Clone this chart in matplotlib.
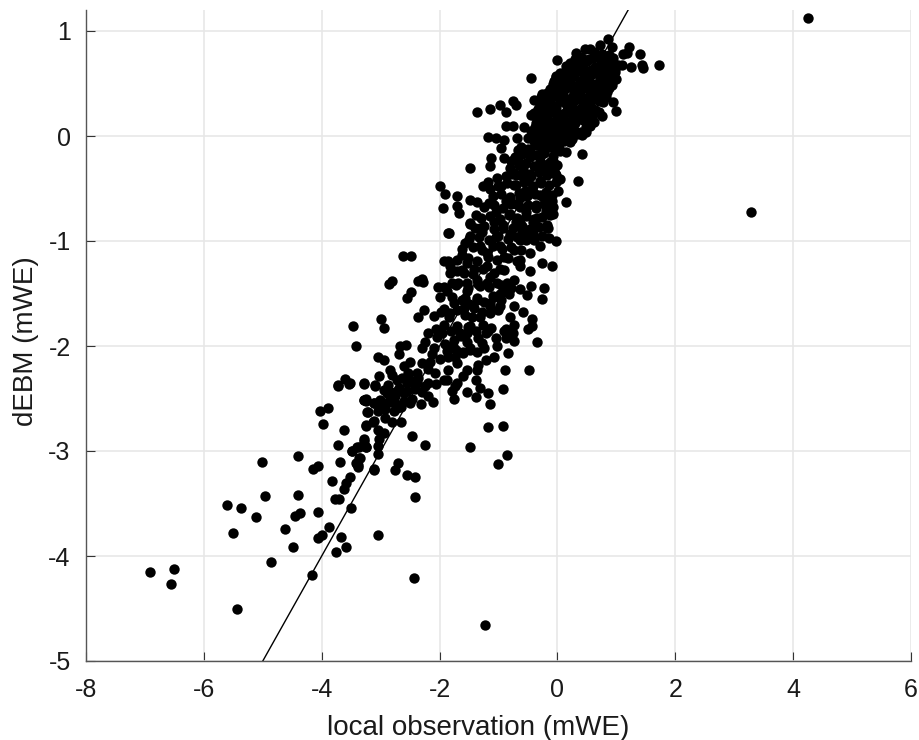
import matplotlib
matplotlib.use("Agg")
import matplotlib.pyplot as plt

plt.rcParams['font.family'] = ['Liberation Sans', 'DejaVu Sans']
plt.rcParams['axes.unicode_minus'] = False

# scattered tail, lower left
tail_x = [-6.91, -6.50, -6.55, -5.44, -4.86, -4.16, -5.51, -5.61, -5.37, -5.12, -4.96, -5.02, -4.40, -4.40, -4.36,
          -4.45, -4.63, -4.49, -4.06, -3.87, -4.00, -4.07, -3.68, -3.59, -3.76, -3.51, -3.77, -3.70, -3.82, -3.52,
          -3.58, -3.62, -4.07, -4.15, -3.69, -3.35, -3.41, -3.38, -3.12, -3.04, -3.62, -3.73, -3.97, -4.03, -3.90,
          -3.48, -3.40, -3.28, -3.24, -3.25, -3.12, -3.23, -3.29, -3.25, -3.12, -3.73, -3.53, -3.29, -3.10, -2.43,
          -2.70, -2.75, -2.56, -2.41, -2.47, -2.25, -3.12, -3.36, -3.40, -3.38, -3.47, -3.41, -2.42]
tail_y = [-4.15, -4.12, -4.27, -4.50, -4.06, -4.18, -3.78, -3.51, -3.54, -3.63, -3.43, -3.10, -3.05, -3.42, -3.59,
          -3.62, -3.74, -3.91, -3.58, -3.72, -3.80, -3.83, -3.82, -3.91, -3.96, -3.54, -3.46, -3.46, -3.29, -3.25,
          -3.30, -3.36, -3.14, -3.17, -3.10, -3.07, -3.11, -3.13, -3.17, -3.80, -2.80, -2.94, -2.74, -2.62, -2.59,
          -3.00, -2.96, -2.90, -2.96, -2.75, -2.71, -2.63, -2.51, -2.52, -2.54, -2.38, -2.36, -2.36, -2.38, -4.21,
          -3.11, -3.18, -3.23, -3.25, -2.86, -2.94, -3.18, -3.07, -3.12, -3.15, -1.81, -2.00, -3.44]

# middle band
mid_x = [-2.62, -2.48, -1.84, -2.81, -2.85, -2.29, -2.37, -2.28, -2.49, -2.56, -2.27, -2.37, -2.99, -2.95, -3.05,
         -2.94, -2.67, -2.57, -2.69, -2.50, -2.84, -3.03, -3.61, -3.72, -3.52, -3.29, -3.09, -2.87, -2.73, -2.61,
         -2.53, -2.39, -2.70, -2.56, -2.41, -2.90, -2.75, -3.01, -3.29, -3.24, -3.12, -2.98, -2.73, -2.50, -2.32,
         -2.19, -2.11, -2.19, -2.24, -2.61, -2.84, -2.39, -3.22, -3.13, -3.25, -2.93, -2.81, -2.65, -3.04, -2.94,
         -3.02, -3.05, -3.04, -3.29, -3.37, -3.48, -3.24, -1.49, -1.18, -0.92, -0.86, -1.01, -1.15, -0.93, -1.18,
         -1.38, -1.54, -1.76, -1.79, -1.31, -1.39, -1.36, -1.61, -1.71, -1.88, -1.93, -1.85, -2.08, -2.30, -2.16,
         -1.71, -1.74, -1.54, -1.34, -1.22, -1.08, -0.84, -0.89, -0.49, -2.24, -2.30, -2.10, -1.96, -2.05, -1.88,
         -1.76, -1.54, -1.28, -1.22, -1.03, -0.88, -0.74, -0.35, -1.71, -1.48, -1.45, -1.31, -1.54, -0.80, -0.74,
         -0.88, -0.43, -0.43, -0.50, -0.58, -2.10, -1.93, -1.82, -1.59, -1.14, -0.97, -0.74, -1.14, -2.03, -2.00,
         -1.88, -1.79, -1.76, -1.54, -1.56, -1.37, -0.97, -0.52, -0.26, -0.23, -0.45, -1.93, -1.85, -1.82, -1.62,
         -1.71, -1.79, -1.59, -1.37, -1.19, -1.03, -0.74, -0.63, -0.26, -0.09, -1.56, -1.48, -1.48, -1.28, -1.05,
         -1.31, -0.91, -0.74, -0.46, -0.63, -0.46, -0.03, -0.29, -0.18, -0.63, -0.80, -0.52, -1.54, -1.42, -1.20,
         -0.97, -0.86, -1.08, -1.31, -0.97, -0.63, -0.40, -0.63, -1.14, -1.54, -1.68, -0.86, -1.20]
mid_y = [-1.14, -1.14, -0.92, -1.38, -1.41, -1.36, -1.38, -1.39, -1.49, -1.54, -1.66, -1.72, -1.74, -1.83, -2.10,
         -2.13, -2.00, -1.99, -2.08, -2.15, -2.23, -2.29, -2.31, -2.37, -2.35, -2.35, -2.37, -2.37, -2.32, -2.19,
         -2.26, -2.26, -2.42, -2.35, -2.38, -2.45, -2.48, -2.51, -2.51, -2.50, -2.54, -2.57, -2.59, -2.54, -2.55,
         -2.48, -2.53, -2.35, -2.38, -2.45, -2.53, -2.35, -2.63, -2.72, -2.76, -2.69, -2.72, -2.72, -2.80, -2.83,
         -2.89, -2.95, -3.03, -2.89, -2.96, -3.00, -2.96, -2.96, -2.77, -2.76, -3.04, -3.12, -2.55, -2.41, -2.45,
         -2.49, -2.44, -2.50, -2.43, -2.40, -2.32, -2.23, -2.29, -2.35, -2.32, -2.32, -2.23, -2.26, -2.16, -2.15,
         -2.16, -2.10, -2.23, -2.18, -2.13, -2.10, -2.07, -2.23, -2.23, -1.96, -2.02, -2.02, -1.88, -1.91, -2.05,
         -1.94, -1.96, -1.97, -1.88, -2.00, -1.92, -1.95, -1.96, -1.81, -1.81, -1.72, -1.72, -1.88, -1.72, -1.80,
         -1.84, -1.74, -1.81, -1.84, -1.68, -1.71, -1.65, -1.69, -1.64, -1.69, -1.62, -1.62, -1.59, -1.44, -1.53,
         -1.48, -1.53, -1.59, -1.48, -1.54, -1.56, -1.50, -1.51, -1.55, -1.45, -1.43, -1.19, -1.19, -1.24, -1.13,
         -1.29, -1.40, -1.30, -1.37, -1.24, -1.40, -1.37, -1.46, -1.21, -1.24, -1.02, -0.95, -0.84, -0.91, -0.96,
         -1.05, -1.15, -1.09, -1.11, -1.24, -1.29, -1.00, -1.05, -0.88, -0.83, -0.93, -0.96, -1.21, -1.27, -1.11,
         -1.27, -1.40, -1.53, -1.43, -1.05, -0.99, -0.99, -1.18, -1.34, -1.40, -1.40, -1.47, -1.40]

# upper band below the dense core
upper_x = [-0.44, -0.75, -0.70, -0.97, -0.87, -1.15, -1.37, -0.39, -0.27, -0.44, -0.88, -0.75, -0.57, -1.17, -1.05,
           -0.91, -0.95, -0.69, -0.67, -0.50, -0.47, 0.04, 0.15, 0.41, -1.12, -1.15, -1.49, -0.90, -0.79, -0.67,
           -0.08, -0.30, -0.58, -0.02, 0.04, 0.35, -0.78, -0.71, -1.03, -1.18, -1.27, -1.15, 0.01, 0.14, -1.90,
           -1.70, -1.48, -1.36, -1.16, -2.00, -1.95, -1.71, -1.67, -1.39, -1.49, -1.32, -1.85, -0.95, -0.73, -0.50,
           -0.30, -0.87, -1.04, -0.70, -0.07, -0.19, -0.36, -0.53, -0.81, -1.07, -0.92, -0.70, -0.41, -0.16, -0.64,
           -0.41, -0.19, -0.25, -0.12, -0.45, -0.30, -0.55, -0.20, -0.35, -0.10, -0.60, -0.42, -0.27, -0.15]
upper_y = [0.55, 0.33, 0.30, 0.30, 0.23, 0.26, 0.23, 0.34, 0.40, 0.20, 0.10, 0.10, 0.09, -0.01, -0.02,
           -0.04, -0.11, -0.02, -0.13, -0.02, -0.15, -0.14, -0.15, -0.17, -0.21, -0.29, -0.30, -0.21, -0.24, -0.24,
           -0.24, -0.24, -0.31, -0.37, -0.41, -0.43, -0.36, -0.37, -0.40, -0.44, -0.48, -0.50, -0.52, -0.63, -0.55,
           -0.57, -0.61, -0.63, -0.64, -0.48, -0.69, -0.67, -0.73, -0.75, -0.83, -0.88, -0.92, -0.48, -0.47, -0.43,
           -0.43, -0.62, -0.72, -0.65, -0.74, -0.63, -0.66, -0.72, -0.74, -0.82, -0.88, -0.82, -0.82, -0.88, -0.59,
           -0.53, -0.53, -0.33, -0.31, -0.38, -0.56, -0.52, -0.71, -0.78, -0.62, -0.90, -0.93, -0.95, -0.97]

# dense core near the origin
core_x = [-0.34, -0.22, -0.11, 0.02, 0.12, 0.24, -0.40, -0.28, -0.16, -0.03, 0.08, 0.20, 0.33, -0.38, -0.25, -0.12,
          0.00, 0.14, 0.27, 0.40, 0.48, -0.42, -0.30, -0.17, -0.04, 0.10, 0.23, 0.36, 0.50, 0.58, -0.33, -0.20,
          -0.06, 0.07, 0.20, 0.34, 0.47, 0.60, -0.24, -0.10, 0.04, 0.17, 0.30, 0.44, 0.57, 0.70, -0.18, -0.04,
          0.10, 0.24, 0.37, 0.51, 0.64, 0.74, -0.08, 0.06, 0.19, 0.33, 0.46, 0.60, 0.72, 0.84, -0.02, 0.12,
          0.26, 0.39, 0.53, 0.66, 0.80, 0.92, 0.14, 0.28, 0.42, 0.55, 0.69, 0.83, 0.97, 0.22, 0.36, 0.50,
          0.63, 0.77, 0.90, 1.03, 0.40, 0.54, 0.68, 0.82, 0.95, 0.62, 0.76, 0.88]
core_y = [-0.09, -0.12, -0.07, -0.11, -0.05, -0.03, 0.00, 0.02, -0.02, 0.01, 0.03, 0.06, 0.02, 0.09, 0.07, 0.10,
          0.08, 0.11, 0.07, 0.04, 0.09, 0.20, 0.15, 0.18, 0.14, 0.17, 0.14, 0.18, 0.12, 0.17, 0.26, 0.23, 0.27,
          0.21, 0.25, 0.22, 0.27, 0.21, 0.34, 0.30, 0.33, 0.29, 0.34, 0.30, 0.28, 0.33, 0.41, 0.38, 0.42, 0.37,
          0.41, 0.36, 0.40, 0.36, 0.50, 0.46, 0.49, 0.44, 0.48, 0.43, 0.47, 0.42, 0.56, 0.53, 0.57, 0.52, 0.55,
          0.50, 0.54, 0.49, 0.63, 0.60, 0.64, 0.59, 0.62, 0.58, 0.61, 0.70, 0.67, 0.71, 0.66, 0.69, 0.65, 0.68,
          0.75, 0.73, 0.76, 0.72, 0.74, 0.80, 0.78, 0.77]

# second pass over the core, between the points above
core2_x = [-0.40, -0.27, -0.15, -0.02, 0.10, 0.22, -0.45, -0.33, -0.20, -0.08, 0.05, 0.18, 0.30, 0.42, -0.37, -0.24,
           -0.10, 0.03, 0.16, 0.30, 0.44, 0.55, -0.39, -0.26, -0.13, 0.00, 0.13, 0.27, 0.40, 0.53, 0.65, -0.30,
           -0.17, -0.03, 0.12, 0.25, 0.38, 0.52, 0.64, -0.28, -0.14, 0.00, 0.14, 0.28, 0.42, 0.55, 0.68, 0.78,
           -0.12, 0.02, 0.15, 0.28, 0.42, 0.55, 0.68, 0.80, -0.05, 0.08, 0.22, 0.35, 0.48, 0.62, 0.75, 0.88,
           0.05, 0.18, 0.32, 0.45, 0.58, 0.72, 0.86, 1.00, 0.15, 0.30, 0.44, 0.57, 0.70, 0.84, 0.98, 0.30,
           0.46, 0.60, 0.74, 0.88, 1.00]
core2_y = [-0.05, -0.06, -0.04, -0.07, -0.03, -0.06, 0.05, 0.04, 0.06, 0.03, 0.05, 0.02, 0.05, 0.01, 0.12, 0.13,
           0.11, 0.14, 0.10, 0.12, 0.15, 0.10, 0.22, 0.21, 0.23, 0.19, 0.22, 0.20, 0.23, 0.19, 0.24, 0.30, 0.31,
           0.28, 0.32, 0.29, 0.26, 0.31, 0.25, 0.37, 0.36, 0.38, 0.35, 0.38, 0.36, 0.33, 0.37, 0.32, 0.45, 0.43,
           0.46, 0.42, 0.45, 0.41, 0.44, 0.40, 0.52, 0.51, 0.53, 0.49, 0.52, 0.48, 0.50, 0.46, 0.60, 0.58, 0.61,
           0.56, 0.59, 0.55, 0.57, 0.54, 0.67, 0.65, 0.68, 0.63, 0.65, 0.62, 0.64, 0.73, 0.72, 0.74, 0.70, 0.71,
           0.68]

# extra points filling the stem between y=-1.5 and y=0
stem_x = [-0.62, -0.50, -0.38, -0.26, -0.14, -0.02, -0.72, -0.60, -0.47, -0.34, -0.22, -0.08, -0.80, -0.66, -0.54,
          -0.40, -0.26, -0.12, 0.00, -0.88, -0.74, -0.60, -0.46, -0.32, -0.18, -0.04, -1.00, -0.85, -0.70, -0.56,
          -0.42, -0.28, -0.14, -0.03, -1.10, -0.95, -0.80, -0.66, -0.52, -0.38, -0.24, -0.10, -1.24, -1.08, -0.92,
          -0.78, -0.64, -0.50, -0.36, -0.22, -0.08, -1.30, -1.14, -0.98, -0.82, -0.68, -0.54, -0.40, -0.26, -0.12,
          -1.40, -1.24, -1.08, -0.92, -0.76, -0.60, -0.46, -0.32, -0.18, -1.50, -1.33, -1.16, -1.00, -0.84, -0.68,
          -0.54, -0.40, -1.62, -1.44, -1.28, -1.10, -0.94, -0.78, -0.62, -1.70, -1.52, -1.36, -1.18, -1.02, -0.84,
          -0.68, -1.82, -1.62, -1.44, -1.26, -1.08, -0.90, -1.92, -1.72, -1.52, -1.34, -1.16, -0.96, -0.78]
stem_y = [-0.10, -0.12, -0.09, -0.13, -0.10, -0.12, -0.20, -0.17, -0.20, -0.18, -0.16, -0.19, -0.30, -0.28, -0.26,
          -0.29, -0.27, -0.25, -0.28, -0.38, -0.35, -0.38, -0.36, -0.34, -0.37, -0.35, -0.48, -0.45, -0.47, -0.44,
          -0.48, -0.45, -0.47, -0.44, -0.57, -0.55, -0.58, -0.54, -0.57, -0.55, -0.58, -0.56, -0.68, -0.66, -0.69,
          -0.65, -0.68, -0.66, -0.69, -0.65, -0.68, -0.78, -0.76, -0.79, -0.75, -0.78, -0.76, -0.79, -0.77, -0.75,
          -0.88, -0.86, -0.89, -0.85, -0.88, -0.86, -0.89, -0.87, -0.85, -0.98, -0.96, -0.99, -0.95, -0.98, -0.96,
          -0.99, -0.97, -1.08, -1.06, -1.09, -1.05, -1.08, -1.06, -1.09, -1.18, -1.16, -1.19, -1.15, -1.18, -1.16,
          -1.19, -1.30, -1.28, -1.31, -1.27, -1.30, -1.28, -1.44, -1.42, -1.45, -1.41, -1.44, -1.42, -1.45]

# extra points in the lower part of the band
low_x = [-2.95, -2.82, -2.68, -2.55, -2.42, -2.30, -2.80, -2.64, -2.50, -2.36, -2.86, -2.74, -2.60, -2.46, -3.05, -2.92,
         -2.78, -2.66, -2.12, -2.00, -1.86, -1.72, -1.60, -1.48, -1.36, -1.24, -2.20, -2.06, -1.92, -1.80, -1.66,
         -1.52, -1.38, -1.26, -1.12, -1.98, -1.84, -1.70, -1.56, -1.42, -1.28, -1.14, -1.00, -1.62, -1.50, -1.36,
         -1.24, -1.10, -0.96, -0.82, -1.90, -1.78, -1.64, -1.48, -1.34, -1.18, -1.04, -0.90, -0.76, -2.20, -2.06, -1.74, -1.60]
low_y = [-2.42, -2.44, -2.40, -2.43, -2.41, -2.44, -2.28, -2.30, -2.32, -2.30, -2.52, -2.55, -2.52, -2.50, -2.62, -2.60,
         -2.62, -2.58, -2.08, -2.12, -2.10, -2.04, -2.07, -2.02, -2.06, -2.02, -1.88, -1.84, -1.80, -1.86, -1.88,
         -1.82, -1.86, -1.80, -1.83, -1.68, -1.72, -1.66, -1.70, -1.64, -1.68, -1.62, -1.66, -1.56, -1.60, -1.54,
         -1.58, -1.52, -1.56, -1.50, -1.98, -2.00, -1.90, -2.04, -1.92, -1.86, -1.92, -1.86, -1.88, -2.22, -2.36, -2.38, -2.06]

# top edge of the cloud and the two outliers on the right
top_x = [0.86, 0.93, 1.22, 0.72, 0.46, 0.55, 0.31, 0.00, 1.12, 1.18, 1.40, 1.25, 1.44, 1.46, 1.73, 1.09, -0.03, 0.18,
         0.92, 0.82, 0.95, 0.99, 0.71, 0.76, 0.62, 0.49, 3.29, 4.25, -1.23]
top_y = [0.92, 0.85, 0.85, 0.87, 0.83, 0.83, 0.79, 0.72, 0.78, 0.79, 0.78, 0.66, 0.68, 0.65, 0.68, 0.68, 0.57, 0.66,
         0.51, 0.37, 0.32, 0.24, 0.23, 0.19, 0.13, 0.04, -0.72, 1.12, -4.66]

x_ticks = [-8, -6, -4, -2, 0, 2, 4, 6]
y_ticks = [-5, -4, -3, -2, -1, 0, 1]
one_to_one = [-8, 6]

fig = plt.figure(figsize=(9.19, 7.40), dpi=100)
ax = fig.add_axes([86 / 919, 1 - 661 / 740, 825 / 919, 651 / 740])

x = tail_x + mid_x + upper_x + core_x + core2_x + stem_x + low_x + top_x
y = tail_y + mid_y + upper_y + core_y + core2_y + stem_y + low_y + top_y
ax.plot(one_to_one, one_to_one, color='black', linewidth=1.0, zorder=2)
ax.scatter(x, y, s=56, color='black', linewidths=0, zorder=3)

ax.set_xlim(-8, 6)
ax.set_ylim(-5, 1.2)
ax.set_xticks(x_ticks)
ax.set_yticks(y_ticks)
ax.grid(True, color='#e6e6e6', linewidth=1.1)
ax.set_axisbelow(True)
ax.tick_params(direction='in', length=6.2, width=0.8, color='#333333', labelsize=18, labelcolor='#1a1a1a')
ax.tick_params(axis='x', pad=12.5)
ax.tick_params(axis='y', pad=11)
ax.spines['top'].set_visible(False)
ax.spines['right'].set_visible(False)
ax.spines['left'].set_color('#555555')
ax.spines['bottom'].set_color('#555555')
ax.spines['left'].set_linewidth(1.0)
ax.spines['bottom'].set_linewidth(1.0)
ax.set_xlabel('local observation (mWE)', fontsize=20, color='#1a1a1a')
ax.set_ylabel('dEBM (mWE)', fontsize=20, color='#1a1a1a')
ax.xaxis.set_label_coords(0.475, -0.083)
ax.yaxis.set_label_coords(-0.0575, 0.491)

fig.savefig('out.png', dpi=100)
